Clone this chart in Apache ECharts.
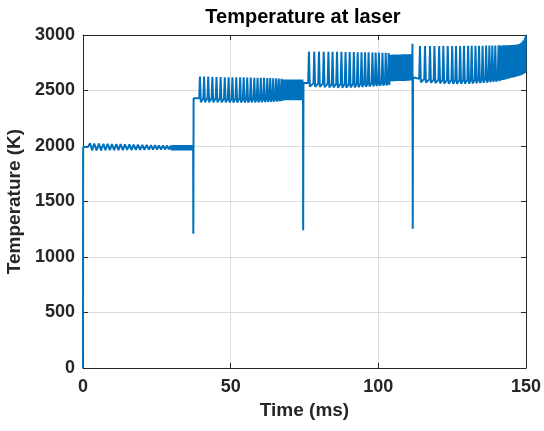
<!DOCTYPE html>
<html>
<head>
<meta charset="utf-8">
<script src="https://cdn.jsdelivr.net/npm/echarts@6/dist/echarts.min.js"></script>
<style>
html, body { margin: 0; padding: 0; background: #fff; }
#chart { width: 544px; height: 431px; }
</style>
</head>
<body>
<div id="chart"></div>
<script>
var chart = echarts.init(document.getElementById("chart"));

/* [time (ms), temperature (K)], one list per plateau */
var plateau1 = [
    [0, 0], [0.05, 1990], [1.6, 1990],
    [2.4, 2025], [3.1, 1960], [3.8, 2022], [4.6, 1960], [5.4, 2022], [6.1, 1960],
    [6.9, 2020], [7.6, 1962], [8.35, 2020], [9.1, 1962], [9.8, 2018], [10.55, 1962],
    [11.3, 2018], [12.0, 1963], [12.75, 2016], [13.5, 1963], [14.2, 2015], [14.95, 1964],
    [15.7, 2014], [16.4, 1964], [17.15, 2012], [17.9, 1965], [18.6, 2012], [19.35, 1966],
    [20.1, 2010], [20.8, 1966], [21.55, 2010], [22.3, 1967], [23.0, 2008], [23.7, 1967],
    [24.4, 2008], [25.05, 1968], [25.7, 2006], [26.4, 1968], [27.1, 2005], [27.75, 1969],
    [28.45, 2004], [29.05, 1970], [29.7, 2003],
    [30.0, 1960], [30.3, 2008], [30.6, 1960], [30.9, 2008], [31.2, 1960], [31.5, 2008],
    [31.8, 1960], [32.1, 2008], [32.4, 1960], [32.7, 2008], [33.0, 1960], [33.3, 2008],
    [33.6, 1960], [33.9, 2008], [34.2, 1960], [34.5, 2008], [34.8, 1960], [35.1, 2008],
    [35.4, 1960], [35.7, 2008], [36.0, 1960], [36.3, 2008], [36.6, 1960], [36.9, 2008],
    [37.2, 1960], [37.3, 1995], [37.35, 1210]
];

var plateau2 = [
    [37.45, 2430], [39.35, 2430],
    [39.6, 2625], [39.9, 2395], [40.75, 2430], [41.0, 2625], [41.3, 2395], [42.15, 2430],
    [42.4, 2625], [42.7, 2395], [43.55, 2430], [43.8, 2622], [44.1, 2395], [44.95, 2430],
    [45.2, 2622], [45.5, 2395], [46.35, 2428], [46.6, 2622], [46.9, 2393], [47.75, 2428],
    [48.0, 2620], [48.3, 2393], [49.05, 2428], [49.3, 2620], [49.6, 2393], [50.35, 2426],
    [50.6, 2620], [50.9, 2392], [51.65, 2426], [51.9, 2618], [52.2, 2392], [52.95, 2426],
    [53.2, 2618], [53.5, 2392], [54.15, 2425], [54.4, 2618], [54.7, 2392], [55.35, 2425],
    [55.6, 2616], [55.9, 2392], [56.55, 2425], [56.8, 2616], [57.1, 2393], [57.75, 2425],
    [58.0, 2615], [58.3, 2393], [58.85, 2425], [59.1, 2615], [59.4, 2394], [59.95, 2425],
    [60.2, 2614], [60.5, 2395], [61.05, 2426], [61.3, 2614], [61.6, 2396], [62.15, 2426],
    [62.4, 2612], [62.7, 2397], [63.15, 2427], [63.4, 2612], [63.7, 2398], [64.15, 2427],
    [64.4, 2610], [64.7, 2400], [65.15, 2428], [65.4, 2610], [65.7, 2402], [66.05, 2428],
    [66.3, 2608], [66.6, 2404], [66.95, 2430], [67.2, 2606], [67.45, 2406],
    [67.7, 2598], [68.0, 2412], [68.3, 2598], [68.6, 2412], [68.9, 2598], [69.2, 2412],
    [69.5, 2598], [69.8, 2412], [70.1, 2598], [70.4, 2412], [70.7, 2598], [71.0, 2412],
    [71.3, 2598], [71.6, 2412], [71.9, 2598], [72.2, 2412], [72.5, 2598], [72.8, 2412],
    [73.1, 2598], [73.4, 2412], [73.7, 2598], [74.0, 2412], [74.3, 2598], [74.5, 2415],
    [74.55, 1240]
];

var plateau3 = [
    [74.65, 2568], [76.25, 2568],
    [76.5, 2850], [76.8, 2535], [78.05, 2566], [78.3, 2850], [78.6, 2533], [79.65, 2565],
    [79.9, 2850], [80.2, 2532], [81.25, 2564], [81.5, 2850], [81.8, 2530], [82.85, 2562],
    [83.1, 2848], [83.4, 2528], [84.25, 2560], [84.5, 2848], [84.8, 2527], [85.75, 2560],
    [86.0, 2848], [86.3, 2526], [87.25, 2560], [87.5, 2848], [87.8, 2526], [88.65, 2560],
    [88.9, 2846], [89.2, 2526], [90.05, 2560], [90.3, 2846], [90.6, 2527], [91.45, 2561],
    [91.7, 2846], [92.0, 2528], [92.75, 2562], [93.0, 2845], [93.3, 2530], [94.05, 2563],
    [94.3, 2845], [94.6, 2532], [95.25, 2565], [95.5, 2844], [95.8, 2534], [96.45, 2566],
    [96.7, 2844], [97.0, 2536], [97.75, 2568], [98.0, 2843], [98.3, 2538], [98.85, 2569],
    [99.1, 2842], [99.4, 2540], [99.95, 2570], [100.2, 2842], [100.5, 2542], [101.15, 2571],
    [101.4, 2840], [101.7, 2544], [102.25, 2572], [102.5, 2840], [102.8, 2546], [103.25, 2574],
    [103.5, 2838], [103.75, 2550],
    [104.0, 2822], [104.3, 2584], [104.6, 2822], [104.9, 2584], [105.2, 2824], [105.5, 2584],
    [105.8, 2824], [106.1, 2585], [106.4, 2824], [106.7, 2585], [107.0, 2825], [107.3, 2586],
    [107.6, 2825], [107.9, 2586], [108.2, 2826], [108.5, 2587], [108.8, 2826], [109.1, 2587],
    [109.4, 2826], [109.7, 2588], [110.0, 2827], [110.3, 2588], [110.6, 2827], [110.9, 2590],
    [111.2, 2828], [111.45, 2592], [111.55, 2922], [111.65, 1255]
];

var plateau4 = [
    [111.75, 2620], [113.85, 2605],
    [114.1, 2900], [114.4, 2575], [115.55, 2603], [115.8, 2900], [116.1, 2572], [117.25, 2600],
    [117.5, 2900], [117.8, 2570], [118.75, 2598], [119.0, 2900], [119.3, 2567], [120.35, 2596],
    [120.6, 2900], [120.9, 2565], [121.75, 2595], [122.0, 2900], [122.3, 2563], [123.25, 2594],
    [123.5, 2900], [123.8, 2562], [124.75, 2593], [125.0, 2900], [125.3, 2561], [126.05, 2593],
    [126.3, 2900], [126.6, 2560], [127.45, 2593], [127.7, 2900], [128.0, 2560], [128.75, 2594],
    [129.0, 2902], [129.3, 2561], [130.15, 2595], [130.4, 2902], [130.7, 2562], [131.35, 2596],
    [131.6, 2902], [131.9, 2564], [132.65, 2598], [132.9, 2903], [133.2, 2566], [133.85, 2600],
    [134.1, 2903], [134.4, 2568], [135.05, 2602], [135.3, 2904], [135.6, 2570], [136.25, 2604],
    [136.5, 2905], [136.8, 2572], [137.35, 2606], [137.6, 2905], [137.9, 2575], [138.35, 2608],
    [138.6, 2906], [138.9, 2578], [139.35, 2610], [139.6, 2906], [139.9, 2580], [140.45, 2612],
    [140.7, 2907], [140.95, 2584],
    [141.2, 2906], [141.5, 2590], [141.8, 2906], [142.1, 2595], [142.4, 2907], [142.7, 2598],
    [143.0, 2907], [143.3, 2602], [143.6, 2908], [143.9, 2606], [144.2, 2908], [144.5, 2610],
    [144.8, 2909], [145.1, 2614], [145.4, 2910], [145.7, 2618], [146.0, 2911], [146.3, 2622],
    [146.6, 2913], [146.9, 2626], [147.2, 2916], [147.5, 2630], [147.8, 2922], [148.1, 2636],
    [148.4, 2932], [148.7, 2642], [149.0, 2950], [149.3, 2650], [149.6, 2972], [149.75, 2658],
    [149.9, 2998]
];

var xTicks = [0, 150, 50];     // min, max, step
var yTicks = [0, 3000, 500];

var txt = '#262626';
var font = 'Liberation Sans';

function boxAxis(range, pos, main) {
    return {
        type: 'value',
        position: pos,
        min: range[0],
        max: range[1],
        interval: range[2],
        axisLine: { show: true, onZero: false, lineStyle: { color: txt, width: 1 } },
        axisTick: { show: true, inside: true, length: 5, lineStyle: { color: txt } },
        axisLabel: {
            show: main,
            color: txt,
            fontFamily: font,
            fontWeight: 'bold',
            fontSize: 18,
            margin: pos === 'bottom' ? 10 : 8,
            formatter: function (v) { return String(v); }
        },
        splitLine: { show: main, lineStyle: { color: '#dcdcdc', width: 1 } }
    };
}

var xMain = boxAxis(xTicks, 'bottom', true);
xMain.name = 'Time (ms)';
xMain.nameLocation = 'middle';
xMain.nameGap = 33;
xMain.nameTextStyle = { color: txt, fontFamily: font, fontWeight: 'bold', fontSize: 19 };

var yMain = boxAxis(yTicks, 'left', true);
yMain.name = 'Temperature (K)';
yMain.nameLocation = 'middle';
yMain.nameGap = 51;
yMain.nameTextStyle = { color: txt, fontFamily: font, fontWeight: 'bold', fontSize: 19 };

var option = {
    animation: false,
    backgroundColor: '#fff',
    title: {
        text: 'Temperature at laser',
        left: 298,
        top: 2,
        textAlign: 'center',
        textStyle: { color: '#000', fontFamily: font, fontWeight: 'bold', fontSize: 20 }
    },
    grid: { left: 83, right: 18, top: 35, bottom: 63, containLabel: false, outerBoundsMode: 'none' },
    xAxis: [xMain, boxAxis(xTicks, 'top', false)],
    yAxis: [yMain, boxAxis(yTicks, 'right', false)],
    series: [{
        type: 'line',
        data: plateau1.concat(plateau2, plateau3, plateau4),
        showSymbol: false,
        symbol: 'none',
        sampling: null,
        clip: false,
        lineStyle: { color: '#0072BD', width: 2 },
        z: 5
    }]
};

chart.setOption(option);

window.onresize = function () {
    chart.resize();
};
</script>
</body>
</html>
